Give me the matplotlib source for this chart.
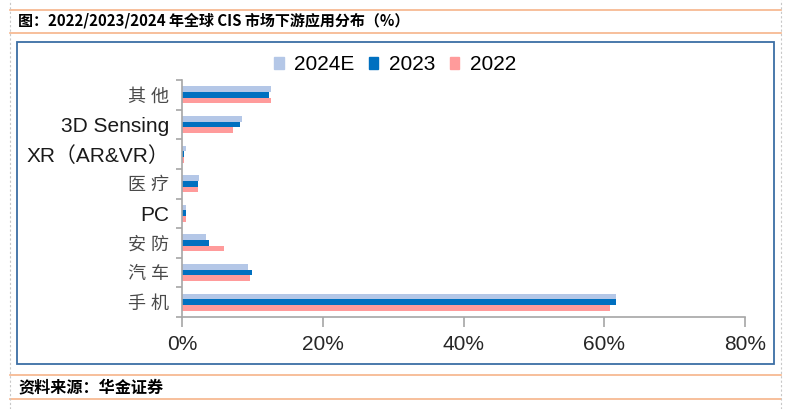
import matplotlib.pyplot as plt
import numpy as np
from matplotlib.patches import Patch, Rectangle
from matplotlib.lines import Line2D

plt.rcParams['font.family'] = ['Liberation Sans', 'Noto Sans CJK SC', 'DejaVu Sans']

# data (share of global CIS market, %)
categories = ['手 机', '汽 车', '安 防', 'PC', '医 疗', 'XR（AR&VR）', '3D Sensing', '其 他']
val_2024e = [61.7, 9.4, 3.4, 0.6, 2.4, 0.5, 8.5, 12.7]
val_2023 = [61.6, 10.0, 3.9, 0.6, 2.3, 0.3, 8.3, 12.4]
val_2022 = [60.8, 9.6, 5.9, 0.6, 2.3, 0.3, 7.3, 12.6]
series_names = ['2024E', '2023', '2022']
xticks = [0, 20, 40, 60, 80]

colors = ('#B4C7E7', '#0070C0', '#FF9B9B')

W, H = 790, 409
fig = plt.figure(figsize=(W / 100, H / 100), dpi=100)

# page frame: orange rules, dashed side lines, blue chart box
def hline(y, color, lw=1.2):
    fig.add_artist(Line2D([10 / W, 781 / W], [1 - y / H, 1 - y / H], color=color, lw=lw))

for yy in (10, 33, 375, 399):
    hline(yy, '#F6B48A')
for xx in (10, 781):
    fig.add_artist(Line2D([xx / W, xx / W], [0, 1], color='#C8C8C8', lw=0.8, ls=(0, (2, 2))))
fig.add_artist(Rectangle((17 / W, 1 - 364 / H), (774 - 17) / W, (364 - 42) / H,
                         fill=False, edgecolor='#3C6EA5', lw=1.3))

fig.text(18 / W, 1 - 21 / H, '图：2022/2023/2024 年全球 CIS 市场下游应用分布（%）',
         fontsize=10.8, fontweight='bold', va='center', ha='left',
         family=['Noto Sans CJK SC'])
fig.text(18 / W, 1 - 387 / H, '资料来源：华金证券',
         fontsize=11.6, fontweight='bold', va='center', ha='left',
         family=['Noto Sans CJK SC'])

ax = fig.add_axes([182 / W, 1 - 317 / H, (745 - 182) / W, (317 - 80) / H])
y = np.arange(len(categories))
h = 0.19
ax.barh(y + h, val_2024e, height=h, color=colors[0], label=series_names[0])
ax.barh(y, val_2023, height=h, color=colors[1], label=series_names[1])
ax.barh(y - h, val_2022, height=h, color=colors[2], label=series_names[2])

ax.set_xlim(0, 80)
ax.set_ylim(-0.5, len(categories) - 0.5)
ax.set_xticks(xticks)
ax.set_xticklabels([f'{t}%' for t in xticks])
ax.set_yticks(np.arange(len(categories) + 1) - 0.5, minor=True)
ax.set_yticks(y)
ax.set_yticklabels(categories)
for lab in ax.get_yticklabels():
    if any(ord(c) > 0x2E80 for c in lab.get_text()) and 'XR' not in lab.get_text():
        lab.set_color('#4a4a4a')
        lab.set_fontsize(13)
    else:
        lab.set_color('#1a1a1a')
        lab.set_fontsize(15)

for s in ('top', 'right'):
    ax.spines[s].set_visible(False)
for s in ('left', 'bottom'):
    ax.spines[s].set_color('#A6A6A6')
    ax.spines[s].set_linewidth(1.2)
ax.tick_params(axis='y', which='major', length=0, pad=9)
ax.tick_params(axis='y', which='minor', length=4, color='#A6A6A6', width=1.2)
ax.tick_params(axis='x', length=7, color='#A6A6A6', width=1.2, labelsize=15,
               labelcolor='#262626', pad=6)

handles = [Patch(color=c) for c in colors]
fig.legend(handles, series_names, loc='center', bbox_to_anchor=(395 / W, 1 - 65 / H),
           ncol=3, frameon=False, fontsize=15, handlelength=0.45, handleheight=0.45,
           handletextpad=0.5, columnspacing=0.7, borderpad=0)

fig.savefig('out.png', dpi=100)
